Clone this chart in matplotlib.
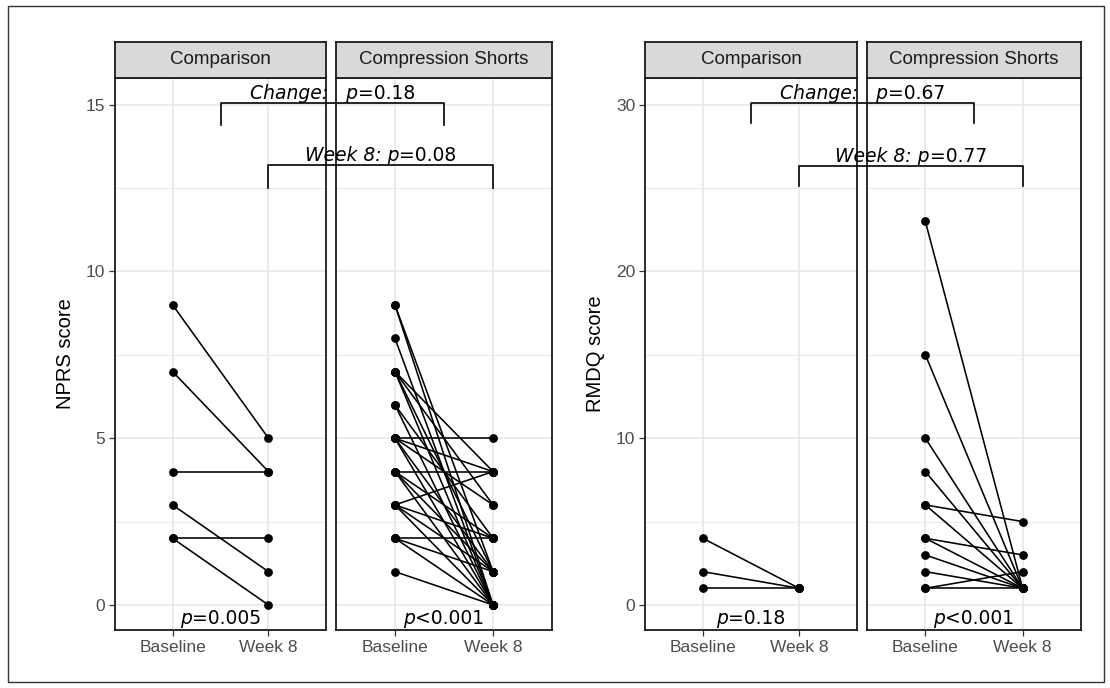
import matplotlib
matplotlib.use("Agg")
import matplotlib.pyplot as plt
from matplotlib.patches import Rectangle

# ---------------- data ----------------
time_labels = ["Baseline", "Week 8"]
group_labels = ["Comparison", "Compression Shorts"]

nprs_comp_base = [9, 7, 4, 3, 2, 2]
nprs_comp_wk8 = [5, 4, 4, 1, 2, 0]

nprs_cs_base = [9, 9, 8, 7, 7, 7, 7, 6, 6, 5, 5, 5, 5, 5, 4, 4, 4, 4, 3, 3, 3, 3, 2, 2, 2, 1]
nprs_cs_wk8 = [0, 1, 0, 3, 4, 1, 0, 2, 0, 5, 4, 3, 1, 0, 4, 2, 1, 0, 4, 2, 1, 0, 2, 1, 0, 0]

rmdq_comp_base = [4, 2, 1]
rmdq_comp_wk8 = [1, 1, 1]

rmdq_cs_base = [23, 15, 10, 8, 6, 6, 4, 4, 3, 2, 1, 1]
rmdq_cs_wk8 = [1, 1, 1, 1, 5, 1, 3, 1, 1, 1, 1, 2]

within_p = {"NPRS": ["p=0.005", "p<0.001"], "RMDQ": ["p=0.18", "p<0.001"]}
change_p = {"NPRS": "0.18", "RMDQ": "0.67"}
week8_p = {"NPRS": "0.08", "RMDQ": "0.77"}

# bracket heights (top, bottom) in data units
change_br = {"NPRS": (15.05, 14.4), "RMDQ": (30.1, 28.9)}
week8_br = {"NPRS": (13.2, 12.5), "RMDQ": (26.3, 25.1)}

ylims = {"NPRS": (-0.75, 15.8), "RMDQ": (-1.5, 31.6)}
ymajor = {"NPRS": [0, 5, 10, 15], "RMDQ": [0, 10, 20, 30]}
yminor = {"NPRS": [2.5, 7.5, 12.5], "RMDQ": [5, 15, 25]}
ylabels = {"NPRS": "NPRS score", "RMDQ": "RMDQ score"}

# ---------------- figure ----------------
W, H = 1110, 688
DPI = 100
fig = plt.figure(figsize=(W / DPI, H / DPI), dpi=DPI)
fig.patch.set_facecolor("white")
renderer = fig.canvas.get_renderer()

SANS = "Liberation Sans"
ANN = "DejaVu Sans"
plt.rcParams["mathtext.fontset"] = "dejavusans"

def rect(x0, x1, y0, y1):
    return [x0 / W, 1 - y1 / H, (x1 - x0) / W, (y1 - y0) / H]

panel_top, panel_bot = 78, 630
strip_top = 42

layouts = {
    "NPRS": [(115, 326), (336, 552)],
    "RMDQ": [(645, 857), (867, 1081)],
}

datasets = {
    "NPRS": [(nprs_comp_base, nprs_comp_wk8), (nprs_cs_base, nprs_cs_wk8)],
    "RMDQ": [(rmdq_comp_base, rmdq_comp_wk8), (rmdq_cs_base, rmdq_cs_wk8)],
}

border_col = "#1a1a1a"


def two_part_label(ax, x, y, italic_part, upright_part, dy_pt, size):
    t1 = ax.annotate(italic_part, xy=(x, y), xytext=(0, dy_pt), textcoords="offset points",
                     ha="left", va="baseline", fontfamily=ANN, fontsize=size, style="italic",
                     color="black", annotation_clip=False, zorder=5)
    t2 = ax.annotate(upright_part, xy=(x, y), xytext=(0, dy_pt), textcoords="offset points",
                     ha="left", va="baseline", fontfamily=ANN, fontsize=size,
                     color="black", annotation_clip=False, zorder=5)
    w1 = t1.get_window_extent(renderer).width
    w2 = t2.get_window_extent(renderer).width
    start = -(w1 + w2) / 2.0
    px2pt = 72.0 / DPI
    t1.xyann = (start * px2pt, dy_pt)
    t2.xyann = ((start + w1) * px2pt, dy_pt)


for key in ["NPRS", "RMDQ"]:
    axes = []
    for i, (x0, x1) in enumerate(layouts[key]):
        ax = fig.add_axes(rect(x0, x1, panel_top, panel_bot))
        ax.set_xlim(0.4, 2.6)
        ax.set_ylim(*ylims[key])
        ax.set_xticks([1, 2])
        ax.set_xticklabels(time_labels, fontfamily=SANS, fontsize=12.5, color="#4d4d4d")
        ax.set_yticks(ymajor[key])
        ax.set_yticks(yminor[key], minor=True)
        ax.grid(which="major", color="#e5e5e5", lw=1.1)
        ax.grid(which="minor", color="#ebebeb", lw=0.8)
        ax.set_axisbelow(True)
        ax.tick_params(which="minor", length=0)
        ax.tick_params(axis="both", which="major", length=4, width=0.9, color="#333333", pad=3)
        if i == 0:
            ax.set_yticklabels([str(v) for v in ymajor[key]], fontfamily=SANS, fontsize=12.5, color="#4d4d4d")
        else:
            ax.tick_params(axis="y", which="major", length=0, labelleft=False)
        for s in ax.spines.values():
            s.set_color(border_col)
            s.set_linewidth(1.3)
        base, wk8 = datasets[key][i]
        for b, w in zip(base, wk8):
            ax.plot([1, 2], [b, w], color="black", lw=1.15, marker="o", markersize=6.3,
                    markeredgewidth=0, zorder=3)
        ptxt = within_p[key][i]
        two_part_label(ax, 1.5, 0, ptxt[0], ptxt[1:], -14, 13.5)
        # strip
        sax = fig.add_axes(rect(x0, x1, strip_top, panel_top))
        sax.set_facecolor("#d9d9d9")
        sax.set_xticks([])
        sax.set_yticks([])
        for s in sax.spines.values():
            s.set_color(border_col)
            s.set_linewidth(1.3)
        sax.text(0.5, 0.5, group_labels[i], ha="center", va="center",
                 fontfamily=SANS, fontsize=13.5, color="#1a1a1a", transform=sax.transAxes)
        axes.append(ax)

    ax1, ax2 = axes
    ax1.set_ylabel(ylabels[key], fontfamily=SANS, fontsize=14.5, color="black", labelpad=8)

    # brackets drawn on second panel, spanning into the first
    def x_in_ax2(xv):
        disp = ax1.transData.transform((xv, 0))
        return ax2.transData.inverted().transform(disp)[0]

    for (top, bot), xa_data, ital, upr in [
        (change_br[key], 1.5, "Change:   p", "=" + change_p[key]),
        (week8_br[key], 2.0, "Week 8: p", "=" + week8_p[key]),
    ]:
        xa = x_in_ax2(xa_data)
        xb = xa_data
        ax2.plot([xa, xa, xb, xb], [bot, top, top, bot], color="black", lw=1.2,
                 clip_on=False, zorder=4)
        two_part_label(ax2, (xa + xb) / 2, top, ital, upr, 3, 13.5)

# outer border
fig.patches.append(Rectangle((8 / W, 1 - 682 / H), (1104 - 8) / W, (682 - 6) / H,
                             transform=fig.transFigure, fill=False, edgecolor="#333333",
                             lw=1.0))

fig.savefig("out.png", dpi=DPI)
